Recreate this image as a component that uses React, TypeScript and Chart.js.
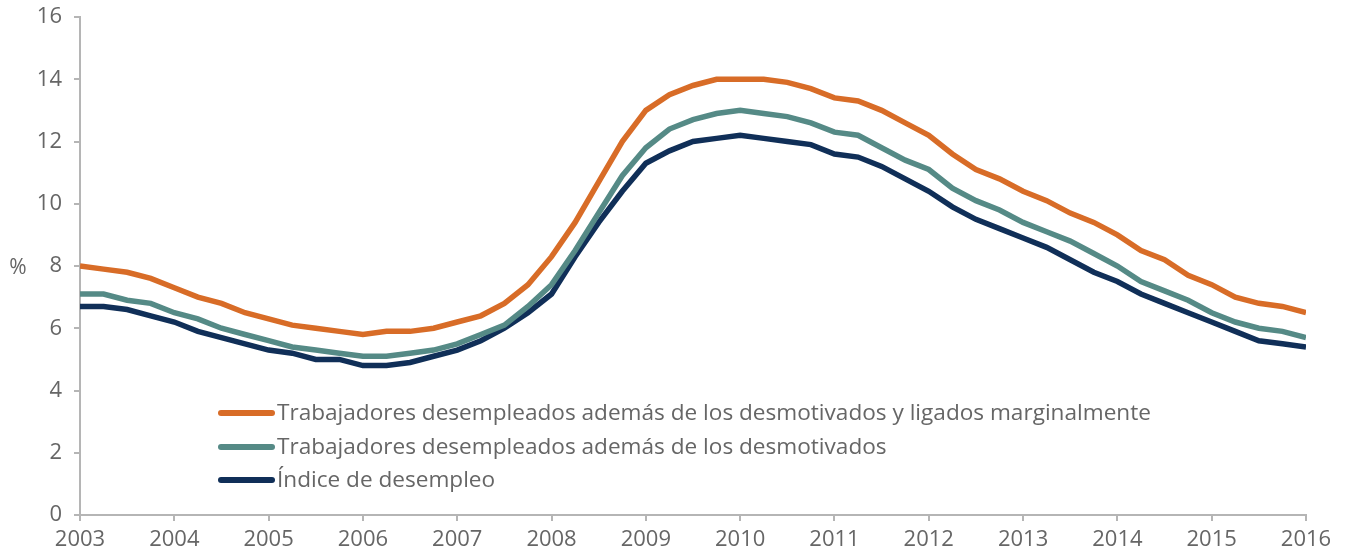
import React, { useEffect, useRef } from "react";
import { Chart, registerables } from "chart.js";

Chart.register(...registerables);

const startYear = 2003;
const endYear = 2016;
const quartersPerYear = 4;

const seriesLabels = [
  "Trabajadores desempleados además de los desmotivados y ligados marginalmente",
  "Trabajadores desempleados además de los desmotivados",
  "Índice de desempleo",
];

const u6Values = [
  8.0, 7.9, 7.8, 7.6,
  7.3, 7.0, 6.8, 6.5,
  6.3, 6.1, 6.0, 5.9,
  5.8, 5.9, 5.9, 6.0,
  6.2, 6.4, 6.8, 7.4,
  8.3, 9.4, 10.7, 12.0,
  13.0, 13.5, 13.8, 14.0,
  14.0, 14.0, 13.9, 13.7,
  13.4, 13.3, 13.0, 12.6,
  12.2, 11.6, 11.1, 10.8,
  10.4, 10.1, 9.7, 9.4,
  9.0, 8.5, 8.2, 7.7,
  7.4, 7.0, 6.8, 6.7,
  6.5,
];

const u4Values = [
  7.1, 7.1, 6.9, 6.8,
  6.5, 6.3, 6.0, 5.8,
  5.6, 5.4, 5.3, 5.2,
  5.1, 5.1, 5.2, 5.3,
  5.5, 5.8, 6.1, 6.7,
  7.4, 8.5, 9.7, 10.9,
  11.8, 12.4, 12.7, 12.9,
  13.0, 12.9, 12.8, 12.6,
  12.3, 12.2, 11.8, 11.4,
  11.1, 10.5, 10.1, 9.8,
  9.4, 9.1, 8.8, 8.4,
  8.0, 7.5, 7.2, 6.9,
  6.5, 6.2, 6.0, 5.9,
  5.7,
];

const u3Values = [
  6.7, 6.7, 6.6, 6.4,
  6.2, 5.9, 5.7, 5.5,
  5.3, 5.2, 5.0, 5.0,
  4.8, 4.8, 4.9, 5.1,
  5.3, 5.6, 6.0, 6.5,
  7.1, 8.3, 9.4, 10.4,
  11.3, 11.7, 12.0, 12.1,
  12.2, 12.1, 12.0, 11.9,
  11.6, 11.5, 11.2, 10.8,
  10.4, 9.9, 9.5, 9.2,
  8.9, 8.6, 8.2, 7.8,
  7.5, 7.1, 6.8, 6.5,
  6.2, 5.9, 5.6, 5.5,
  5.4,
];

const yTicks = [0, 2, 4, 6, 8, 10, 12, 14, 16];
const yAxisTitle = "%";

const COLORS = ["#D86C27", "#558A86", "#102F58"];
const TEXT = "#666666";
const AXIS = "#B5B5B5";
const FONT = "'Open Sans', Lato, sans-serif";

function toPoints(values: number[]) {
  return values.map((v, i) => ({ x: startYear + i / quartersPerYear, y: v }));
}

const overlayPlugin = {
  id: "overlay",
  afterDraw(chart: any) {
    const { ctx, scales } = chart;
    const ys = scales.y;
    ctx.save();
    ctx.fillStyle = TEXT;
    ctx.font = `21px ${FONT}`;
    ctx.textAlign = "center";
    ctx.textBaseline = "middle";
    ctx.fillText(yAxisTitle, 18, ys.getPixelForValue(8) + 2);
    const lx = 218;
    const rows = [413, 447, 480];
    ctx.font = `22.6px ${FONT}`;
    ctx.textAlign = "left";
    seriesLabels.forEach((label, i) => {
      const y = rows[i];
      ctx.strokeStyle = COLORS[i];
      ctx.lineWidth = 6;
      ctx.lineCap = "round";
      ctx.beginPath();
      ctx.moveTo(lx + 3, y);
      ctx.lineTo(lx + 54, y);
      ctx.stroke();
      ctx.fillStyle = TEXT;
      ctx.fillText(label, lx + 59, y + 1);
    });
    ctx.restore();
  },
};

export default function App() {
  const ref = useRef<HTMLCanvasElement | null>(null);
  useEffect(() => {
    document.body.style.margin = "0";
    if (!ref.current) return;
    const chart = new Chart(ref.current, {
      type: "line",
      data: {
        datasets: [u6Values, u4Values, u3Values].map((vals, i) => ({
          label: seriesLabels[i],
          data: toPoints(vals),
          borderColor: COLORS[i],
          backgroundColor: COLORS[i],
          borderWidth: 5.5,
          pointRadius: 0,
          tension: 0,
          fill: false,
        })),
      },
      options: {
        animation: false,
        responsive: false,
        maintainAspectRatio: false,
        layout: { padding: { left: 0, right: 40, top: 17, bottom: 0 } },
        plugins: {
          legend: { display: false },
          tooltip: { enabled: false },
        },
        scales: {
          x: {
            type: "linear",
            min: startYear,
            max: endYear,
            afterFit: (s: any) => { s.height = 37; s.paddingLeft = 0; s.paddingRight = 0; },
            afterBuildTicks: (s: any) => {
              const t = [];
              for (let y = startYear; y <= endYear; y++) t.push({ value: y });
              s.ticks = t;
            },
            ticks: {
              color: TEXT,
              font: { family: FONT, size: 22 },
              padding: 6,
              callback: (v: any) => String(v),
              maxRotation: 0,
              autoSkip: false,
            },
            grid: { drawOnChartArea: false, drawTicks: true, tickLength: 6, color: AXIS, lineWidth: 2 },
            border: { color: AXIS, width: 2 },
          },
          y: {
            min: 0,
            max: 16,
            afterFit: (s: any) => { s.width = 80; s.paddingTop = 0; s.paddingBottom = 0; },
            afterBuildTicks: (s: any) => { s.ticks = yTicks.map((v) => ({ value: v })); },
            ticks: {
              color: TEXT,
              font: { family: FONT, size: 22 },
              padding: 12,
            },
            grid: { drawOnChartArea: false, drawTicks: true, tickLength: 6, color: AXIS, lineWidth: 2 },
            border: { color: AXIS, width: 2 },
          },
        },
      },
      plugins: [overlayPlugin],
    });
    return () => chart.destroy();
  }, []);
  return (
    <div style={{ width: 1346, height: 552 }}>
      <canvas ref={ref} width={1346} height={552} style={{ display: "block" }} />
    </div>
  );
}
